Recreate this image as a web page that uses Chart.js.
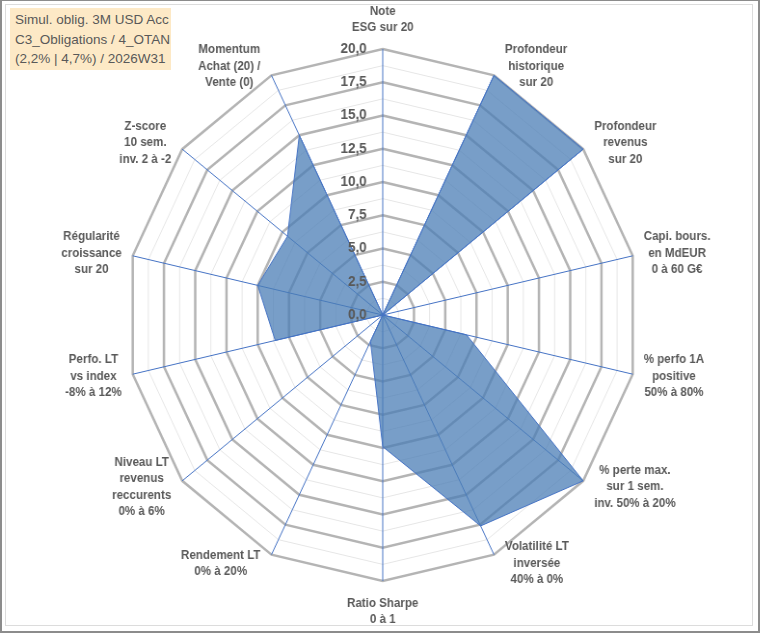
<!DOCTYPE html>
<html>
<head>
<meta charset="utf-8">
<script src="https://cdn.jsdelivr.net/npm/chart.js@4"></script>
<style>
  body { margin: 0; background: #fff; }
  #frame { position: absolute; left: 0; top: 0; width: 756px; height: 630px; border: 1px solid #8c8c8c; border-width: 1px 2px 2px 2px; }
  #inner { position: absolute; left: 5px; top: 4px; width: 746px; height: 620px; border: 1px solid #dcdcdc; }
  #wrap { position: absolute; left: 0; top: 0; width: 788px; height: 633px; transform: scaleX(0.964); transform-origin: 0 0; }
  #title { position: absolute; left: 10px; top: 8px; width: 161px; height: 62px; padding-left: 5px; background: #fde9c6;
           font-family: "Liberation Sans", Arial, sans-serif; font-size: 13.5px; line-height: 19.5px; color: #595959; padding-top: 2px; box-sizing: border-box; }
</style>
</head>
<body>
<div id="frame"></div>
<div id="inner"></div>
<div id="wrap"><canvas id="radar" width="788" height="633"></canvas></div>
<div id="title">Simul. oblig. 3M USD Acc<br>C3_Obligations / 4_OTAN<br>(2,2% | 4,7%) / 2026W31</div>
<script>
// axis labels (one array per axis, lines of text)
const categories = [
  ["Note", "ESG sur 20"],
  ["Profondeur", "historique", "sur 20"],
  ["Profondeur", "revenus", "sur 20"],
  ["Capi. bours.", "en MdEUR", "0 à 60 G€"],
  ["% perfo 1A", "positive", "50% à 80%"],
  ["% perte max.", "sur 1 sem.", "inv. 50% à 20%"],
  ["Volatilité LT", "inversée", "40% à 0%"],
  ["Ratio Sharpe", "0 à 1"],
  ["Rendement LT", "0% à 20%"],
  ["Niveau LT", "revenus", "reccurents", "0% à 6%"],
  ["Perfo. LT", "vs index", "-8% à 12%"],
  ["Régularité", "croissance", "sur 20"],
  ["Z-score", "10 sem.", "inv. 2 à -2"],
  ["Momentum", "Achat (20) /", "Vente (0)"]
];

// scores (0 - 20)
const scores = [0, 20, 20, 0, 6.7, 20, 17.6, 9.9, 2.2, 0, 8.6, 10, 9.5, 15];

// labelled ticks
const tickLabels = ["0,0", "2,5", "5,0", "7,5", "10,0", "12,5", "15,0", "17,5", "20,0"];
const tickValues = [0, 2.5, 5, 7.5, 10, 12.5, 15, 17.5, 20];

const xStretch = 0.964;

// tick labels drawn left of the vertical axis, over the filled area
const tickLabelPlugin = {
  id: "tickLabelPlugin",
  afterDatasetsDraw(chart) {
    const scale = chart.scales.r;
    const ctx = chart.ctx;
    ctx.save();
    ctx.font = "bold 14px 'Liberation Sans', Arial, sans-serif";
    ctx.fillStyle = "#595959";
    ctx.textAlign = "right";
    ctx.textBaseline = "middle";
    tickValues.forEach((v, i) => {
      const d = scale.getDistanceFromCenterForValue(v);
      ctx.fillText(tickLabels[i], scale.xCenter - 16 / xStretch, scale.yCenter - d);
    });
    ctx.restore();
  }
};

// centred multi-line point labels placed next to each axis end
const pointLabelPlugin = {
  id: "pointLabelPlugin",
  afterDraw(chart) {
    const scale = chart.scales.r;
    const ctx = chart.ctx;
    const lh = 16.5;
    ctx.save();
    ctx.font = "bold 12px 'Liberation Sans', Arial, sans-serif";
    ctx.fillStyle = "#595959";
    ctx.textAlign = "center";
    ctx.textBaseline = "middle";
    const n = categories.length;
    categories.forEach((lines, i) => {
      const p = scale.getPointPosition(i, scale.drawingArea);
      const a = 2 * Math.PI * i / n;
      const s = Math.sin(a), c = Math.cos(a);
      const w = Math.max(...lines.map(t => ctx.measureText(t).width));
      const h = lines.length * lh;
      let cx, cy;
      if (Math.abs(s) < 0.01) {
        cx = p.x;
        cy = c > 0 ? p.y - 13 - h / 2 : p.y + 14 + h / 2;
      } else {
        const gap = 11 / xStretch;
        cx = s > 0 ? p.x + gap + w / 2 : p.x - gap - w / 2;
        cy = p.y - 10 * c;
      }
      lines.forEach((t, k) => {
        ctx.fillText(t, cx, cy - h / 2 + lh / 2 + k * lh);
      });
    });
    ctx.restore();
  }
};

new Chart(document.getElementById("radar"), {
  type: "radar",
  data: {
    labels: categories,
    datasets: [{
      label: "Score",
      data: scores,
      backgroundColor: "rgba(75,126,182,0.75)",
      borderColor: "#4472c4",
      borderWidth: 1,
      pointRadius: 0,
      fill: true
    }]
  },
  options: {
    responsive: false,
    animation: false,
    layout: {
      padding: { top: 49, bottom: 51, left: 131, right: 125 }
    },
    plugins: {
      legend: { display: false },
      tooltip: { enabled: false }
    },
    scales: {
      r: {
        min: 0,
        max: 20,
        ticks: { stepSize: 1.25, display: false },
        pointLabels: { display: false },
        angleLines: { color: "#4472c4", lineWidth: 1 },
        grid: {
          circular: false,
          color: (ctx) => (ctx.index % 2 === 0 ? "#b4b4b4" : "#e6e6e6"),
          lineWidth: (ctx) => (ctx.index % 2 === 0 ? 2.5 : 1)
        }
      }
    }
  },
  plugins: [tickLabelPlugin, pointLabelPlugin]
});
</script>
</body>
</html>
